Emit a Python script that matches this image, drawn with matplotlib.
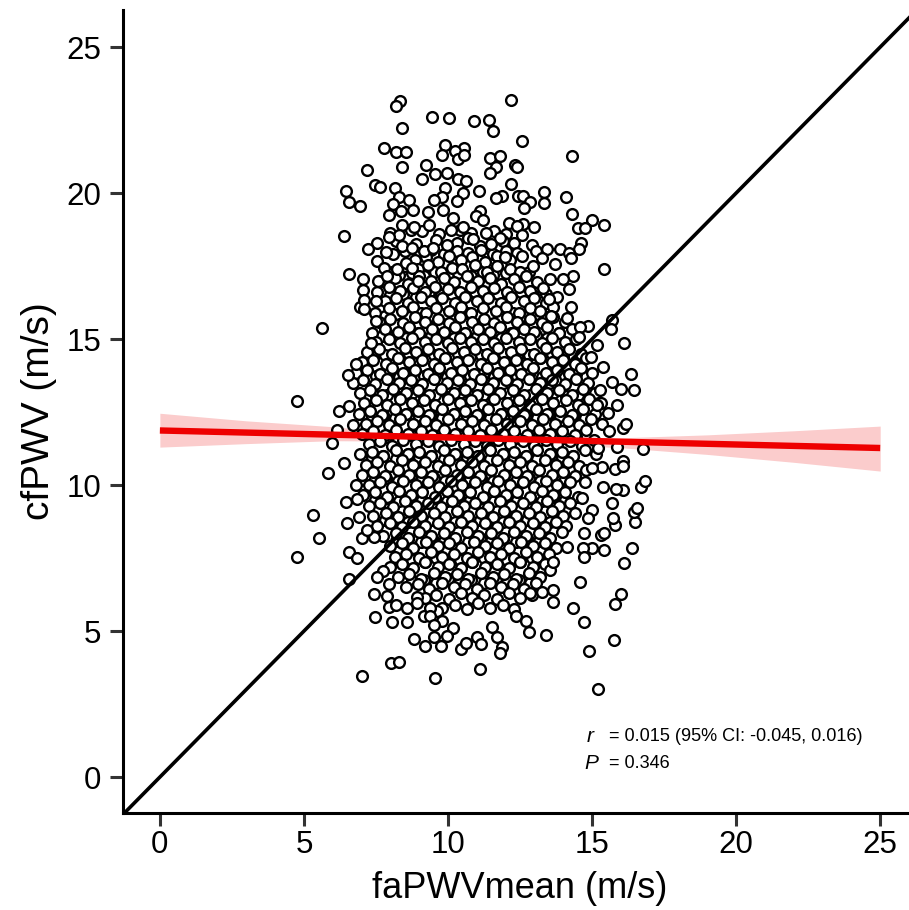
"""
cfPWV vs faPWVmean scatter with identity line and regression fit
"""

import matplotlib
matplotlib.use('Agg')
import matplotlib.pyplot as plt

plt.rcParams['font.family'] = ['Liberation Sans', 'DejaVu Sans']

fa_top = [8.33, 8.19, 12.18, 9.46, 10.04, 10.90, 11.44, 11.57, 8.41, 12.56, 7.78, 8.18, 8.55, 9.90, 10.57, 10.24,
          9.78, 10.34, 10.56, 11.47, 11.81, 14.30, 8.41, 9.22, 12.31, 12.41, 11.68, 11.45, 7.20, 9.56, 9.95, 9.10,
          10.34, 10.61, 7.47, 7.64, 12.18, 8.16, 9.90, 6.45, 11.09, 10.51, 13.32, 14.09, 8.31, 9.80, 9.51, 10.32,
          11.86, 11.68, 12.43, 12.59, 8.63, 12.85, 13.32, 6.56, 6.93, 8.10, 12.65, 8.77, 8.37, 9.82, 7.96, 9.32,
          11.11, 14.32, 10.96, 15.01, 11.23, 15.43, 10.19, 14.50, 14.76, 12.10, 12.62, 13.00, 12.41, 8.41, 8.83, 9.34,
          10.53, 10.09, 12.56, 6.40, 8.30, 7.96, 7.52, 7.23, 7.86, 8.41, 8.74, 9.17, 9.47, 9.98, 10.88, 11.31,
          11.81, 11.48, 12.91, 13.43, 13.89, 14.62, 14.56, 14.21, 14.26, 13.06, 13.25, 12.56, 11.98, 13.72, 15.40, 6.56,
          7.04, 14.33, 13.98, 13.54, 14.19, 7.06, 7.56, 7.52, 7.77, 8.24, 8.54, 8.76, 7.89, 8.97, 13.51, 14.26,
          6.95, 7.08, 7.10, 7.50, 5.61, 14.14, 13.58, 14.87, 14.58, 15.68, 15.67, 16.12, 15.16, 14.53, 7.32, 7.49,
          6.81, 15.37, 16.34, 14.96, 6.54]
cf_top = [23.16, 22.99, 23.18, 22.59, 22.56, 22.48, 22.50, 22.12, 22.24, 21.80, 21.55, 21.40, 21.40, 21.66, 21.53, 21.44,
          21.31, 21.18, 21.29, 21.20, 21.27, 21.26, 20.90, 20.95, 20.95, 20.88, 20.88, 20.70, 20.78, 20.66, 20.70, 20.49,
          20.49, 20.42, 20.26, 20.21, 20.32, 20.16, 20.16, 20.08, 20.08, 20.02, 20.05, 19.86, 19.87, 19.85, 19.78, 19.74,
          19.91, 19.83, 19.91, 19.91, 19.76, 19.71, 19.66, 19.70, 19.55, 19.62, 19.50, 19.42, 19.38, 19.42, 19.26, 19.34,
          19.40, 19.29, 19.21, 19.08, 19.08, 18.92, 19.13, 18.80, 18.82, 18.98, 18.94, 18.84, 18.88, 18.92, 18.84, 18.92,
          18.84, 18.73, 18.57, 18.54, 18.55, 18.48, 18.28, 18.07, 17.99, 18.20, 18.12, 18.01, 18.13, 18.22, 18.44, 18.62,
          18.46, 18.25, 18.22, 18.08, 18.09, 18.30, 18.10, 17.96, 17.76, 18.01, 17.77, 17.84, 17.80, 17.56, 17.40, 17.24,
          17.07, 17.16, 17.07, 17.07, 16.70, 16.68, 16.99, 17.69, 17.44, 17.40, 17.61, 17.42, 17.17, 16.99, 16.36, 16.10,
          16.11, 16.34, 16.03, 16.31, 15.37, 15.72, 15.79, 15.46, 15.40, 15.65, 15.34, 14.87, 14.79, 15.08, 14.87, 15.62,
          14.14, 14.05, 13.79, 14.37, 13.77]

fa_low = [4.75, 6.22, 6.56, 6.16, 6.69, 5.98, 6.40, 5.83, 6.81, 6.45, 6.83, 5.30, 6.48, 6.91, 5.51, 4.77,
          6.56, 6.85, 6.56, 7.03, 7.43, 7.20, 7.75, 7.52, 7.94, 7.43, 7.90, 7.96, 8.18, 8.57, 8.94, 8.94,
          7.47, 8.06, 8.59, 9.18, 9.61, 9.37, 9.37, 9.80, 9.53, 10.16, 8.82, 9.20, 9.51, 9.95, 9.75, 10.44,
          10.61, 10.99, 11.13, 11.52, 11.71, 11.86, 11.81, 12.36, 12.71, 12.82, 13.40, 14.35, 14.72, 14.58, 15.78, 16.00,
          15.77, 14.91, 16.12, 16.40, 15.42, 15.01, 14.68, 14.73, 14.73, 15.31, 15.42, 16.49, 16.46, 16.57, 15.80, 15.71,
          15.68, 16.70, 16.85, 16.09, 15.83, 15.37, 15.78, 16.09, 16.09, 15.34, 15.01, 16.76, 15.88, 15.22, 15.60, 16.09,
          16.17, 15.57, 15.86, 16.46, 16.01, 15.28, 15.16, 15.68, 8.02, 8.30, 7.01, 9.56, 11.12, 15.22, 13.66, 13.63,
          13.25, 12.85, 13.54, 13.66, 14.12, 14.76, 14.64, 14.99, 14.87]
cf_low = [12.88, 12.55, 12.71, 11.89, 12.06, 11.45, 10.75, 10.43, 10.02, 9.41, 9.52, 8.99, 8.71, 8.89, 8.19, 7.54,
          7.72, 7.52, 6.78, 8.18, 8.22, 8.46, 7.07, 6.84, 6.61, 6.27, 6.20, 5.84, 5.88, 5.78, 6.18, 5.97,
          5.49, 5.31, 5.31, 5.53, 5.70, 5.78, 5.53, 5.35, 5.21, 5.12, 4.72, 4.50, 4.81, 4.84, 4.49, 4.39,
          4.60, 4.79, 4.56, 5.15, 4.81, 4.45, 4.24, 5.52, 5.35, 4.96, 4.87, 5.79, 5.32, 6.69, 5.93, 6.27,
          4.70, 4.31, 7.32, 7.83, 7.77, 7.86, 7.86, 7.55, 8.36, 8.30, 8.37, 8.75, 9.07, 9.23, 8.63, 8.87,
          9.38, 9.94, 10.14, 9.83, 9.86, 9.92, 10.55, 10.81, 10.67, 10.63, 10.57, 11.24, 11.32, 11.27, 11.86, 11.94,
          12.08, 12.46, 12.73, 13.26, 13.28, 13.26, 12.74, 13.54, 3.90, 3.95, 3.46, 3.41, 3.69, 3.02, 6.41, 6.01,
          6.33, 6.29, 7.09, 7.36, 7.89, 10.12, 9.55, 9.15, 8.86]

# dense middle of the cloud, estimated row by row
fa_core = [8.85, 9.25, 9.65, 10.05, 10.45, 10.85, 11.3, 11.7, 12.15,
           8.05, 8.5, 8.95, 9.3, 9.75, 10.15, 10.5, 10.95, 11.35, 11.7, 12.15, 12.5, 12.95,
           7.7, 8.15, 8.6, 9.0, 9.4, 9.85, 10.2, 10.65, 11.05, 11.45, 11.85, 12.3, 12.7, 13.1,
           7.55, 7.95, 8.35, 8.8, 9.2, 9.55, 10.0, 10.4, 10.8, 11.2, 11.6, 12.05, 12.45, 12.85, 13.3,
           7.8, 8.2, 8.6, 9.05, 9.4, 9.8, 10.25, 10.6, 11.0, 11.4, 11.85, 12.2, 12.65, 13.0, 13.4, 13.8,
           7.45, 7.95, 8.4, 8.8, 9.25, 9.6, 10.05, 10.45, 10.8, 11.2, 11.65, 12.0, 12.45, 12.85, 13.2, 13.65,
           7.6, 8.0, 8.45, 8.85, 9.2, 9.65, 10.05, 10.4, 10.85, 11.25, 11.6, 12.05, 12.4, 12.85, 13.25, 13.65, 14.05,
           7.35, 7.8, 8.25, 8.65, 9.0, 9.45, 9.85, 10.25, 10.6, 11.05, 11.45, 11.8, 12.25, 12.65, 13.0, 13.45, 13.85, 14.3,
           7.5, 7.95, 8.35, 8.75, 9.2, 9.6, 10.0, 10.4, 10.8, 11.2, 11.6, 12.0, 12.45, 12.85, 13.25, 13.6, 14.05, 14.45,
           7.2, 7.6, 8.05, 8.5, 8.9, 9.3, 9.7, 10.15, 10.55, 10.95, 11.35, 11.75, 12.2, 12.55, 13.0, 13.4, 13.8, 14.2, 14.6,
           7.0, 7.4, 7.85, 8.25, 8.65, 9.1, 9.5, 9.9, 10.3, 10.7, 11.15, 11.55, 11.95, 12.35, 12.75, 13.2, 13.6, 14.0, 14.4, 14.8,
           6.8, 7.2, 7.65, 8.05, 8.45, 8.85, 9.3, 9.7, 10.1, 10.5, 10.9, 11.35, 11.75, 12.15, 12.55, 12.95, 13.4, 13.8, 14.2, 14.6, 15.0,
           6.7, 7.05, 7.45, 7.9, 8.3, 8.7, 9.1, 9.5, 9.95, 10.35, 10.75, 11.15, 11.55, 12.0, 12.4, 12.8, 13.2, 13.6, 14.05, 14.45, 14.85,
           6.95, 7.3, 7.7, 8.1, 8.55, 8.95, 9.35, 9.75, 10.2, 10.6, 11.0, 11.4, 11.8, 12.25, 12.65, 13.05, 13.45, 13.85, 14.3, 14.7, 15.1,
           7.1, 7.5, 7.9, 8.35, 8.75, 9.15, 9.55, 10.0, 10.4, 10.8, 11.2, 11.6, 12.05, 12.45, 12.85, 13.25, 13.65, 14.1, 14.5, 14.9, 15.3,
           6.9, 7.3, 7.7, 8.15, 8.55, 8.95, 9.35, 9.8, 10.2, 10.6, 11.0, 11.4, 11.85, 12.25, 12.65, 13.05, 13.45, 13.9, 14.3, 14.7, 15.1,
           7.15, 7.55, 7.95, 8.35, 8.8, 9.2, 9.6, 10.0, 10.45, 10.85, 11.25, 11.65, 12.05, 12.5, 12.9, 13.3, 13.7, 14.15, 14.55, 14.95, 15.35,
           7.0, 7.4, 7.8, 8.2, 8.6, 9.05, 9.45, 9.85, 10.25, 10.7, 11.1, 11.5, 11.9, 12.3, 12.75, 13.15, 13.55, 13.95, 14.4, 14.8,
           7.25, 7.65, 8.05, 8.45, 8.9, 9.3, 9.7, 10.1, 10.55, 10.95, 11.35, 11.75, 12.15, 12.6, 13.0, 13.4, 13.8, 14.25, 14.65, 15.05,
           6.95, 7.35, 7.75, 8.2, 8.6, 9.0, 9.4, 9.85, 10.25, 10.65, 11.05, 11.45, 11.9, 12.3, 12.7, 13.1, 13.55, 13.95, 14.35, 14.75, 15.15,
           7.15, 7.55, 8.0, 8.4, 8.8, 9.2, 9.65, 10.05, 10.45, 10.85, 11.25, 11.7, 12.1, 12.5, 12.9, 13.35, 13.75, 14.15, 14.55,
           7.0, 7.4, 7.8, 8.25, 8.65, 9.05, 9.45, 9.9, 10.3, 10.7, 11.1, 11.5, 11.95, 12.35, 12.75, 13.15, 13.6, 14.0, 14.4, 14.8,
           7.25, 7.65, 8.05, 8.45, 8.9, 9.3, 9.7, 10.1, 10.5, 10.95, 11.35, 11.75, 12.15, 12.6, 13.0, 13.4, 13.8, 14.25,
           7.05, 7.45, 7.9, 8.3, 8.7, 9.1, 9.55, 9.95, 10.35, 10.75, 11.2, 11.6, 12.0, 12.4, 12.85, 13.25, 13.65, 14.05, 14.5,
           7.25, 7.65, 8.1, 8.5, 8.9, 9.3, 9.75, 10.15, 10.55, 10.95, 11.4, 11.8, 12.2, 12.6, 13.05, 13.45, 13.85, 14.25,
           7.4, 7.85, 8.25, 8.65, 9.05, 9.5, 9.9, 10.3, 10.7, 11.15, 11.55, 11.95, 12.35, 12.8, 13.2, 13.6, 14.0, 14.4,
           7.55, 8.0, 8.4, 8.8, 9.2, 9.65, 10.05, 10.45, 10.85, 11.3, 11.7, 12.1, 12.5, 12.95, 13.35, 13.75, 14.1,
           7.75, 8.2, 8.6, 9.0, 9.4, 9.85, 10.25, 10.65, 11.05, 11.5, 11.9, 12.3, 12.7, 13.15, 13.55, 13.95,
           8.0, 8.4, 8.8, 9.25, 9.65, 10.05, 10.45, 10.9, 11.3, 11.7, 12.1, 12.55, 12.95, 13.35, 13.75,
           8.15, 8.55, 9.0, 9.4, 9.8, 10.2, 10.65, 11.05, 11.45, 11.85, 12.3, 12.7, 13.1, 13.5,
           8.0, 8.4, 8.8, 9.2, 9.65, 10.05, 10.45, 10.85, 11.3, 11.7, 12.1, 12.5, 12.95, 13.35,
           8.25, 8.65, 9.05, 9.5, 9.9, 10.3, 10.7, 11.15, 11.55, 11.95, 12.35, 12.8, 13.2,
           8.55, 8.95, 9.35, 9.8, 10.2, 10.6, 11.0, 11.45, 11.85, 12.25, 12.65, 13.05,
           9.2, 9.6, 10.05, 10.45, 10.85, 11.25, 11.7, 12.1, 12.5, 12.9,
           9.8, 10.25, 10.65, 11.05, 11.45, 11.9, 12.3]
cf_core = [17.7, 17.8, 17.65, 17.85, 17.7, 17.8, 17.65, 17.85, 17.7,
           17.3, 17.5, 17.4, 17.55, 17.3, 17.45, 17.4, 17.55, 17.3, 17.5, 17.4, 17.3, 17.5,
           17.0, 17.1, 16.9, 17.15, 17.0, 17.1, 16.95, 17.15, 17.0, 17.1, 16.9, 17.05, 17.15, 16.95,
           16.6, 16.8, 16.65, 16.75, 16.6, 16.8, 16.7, 16.6, 16.8, 16.65, 16.75, 16.6, 16.8, 16.65, 16.75,
           16.3, 16.4, 16.25, 16.45, 16.3, 16.4, 16.25, 16.45, 16.3, 16.4, 16.25, 16.45, 16.3, 16.4, 16.25, 16.45,
           15.9, 16.05, 15.95, 16.1, 15.9, 16.05, 15.95, 16.1, 15.9, 16.05, 15.95, 16.1, 15.9, 16.05, 15.95, 16.1,
           15.6, 15.7, 15.55, 15.75, 15.6, 15.7, 15.55, 15.75, 15.6, 15.7, 15.55, 15.75, 15.6, 15.7, 15.55, 15.75, 15.6,
           15.2, 15.35, 15.25, 15.4, 15.2, 15.35, 15.25, 15.4, 15.2, 15.35, 15.25, 15.4, 15.2, 15.35, 15.25, 15.4, 15.2, 15.35,
           14.9, 15.0, 14.85, 15.05, 14.9, 15.0, 14.85, 15.05, 14.9, 15.0, 14.85, 15.05, 14.9, 15.0, 14.85, 15.05, 14.9, 15.0,
           14.55, 14.65, 14.5, 14.7, 14.55, 14.65, 14.5, 14.7, 14.55, 14.65, 14.5, 14.7, 14.55, 14.65, 14.5, 14.7, 14.55, 14.65, 14.5,
           14.2, 14.3, 14.15, 14.35, 14.2, 14.3, 14.15, 14.35, 14.2, 14.3, 14.15, 14.35, 14.2, 14.3, 14.15, 14.35, 14.2, 14.3, 14.15, 14.35,
           13.85, 13.95, 13.8, 14.0, 13.85, 13.95, 13.8, 14.0, 13.85, 13.95, 13.8, 14.0, 13.85, 13.95, 13.8, 14.0, 13.85, 13.95, 13.8, 14.0, 13.85,
           13.5, 13.6, 13.45, 13.65, 13.5, 13.6, 13.45, 13.65, 13.5, 13.6, 13.45, 13.65, 13.5, 13.6, 13.45, 13.65, 13.5, 13.6, 13.45, 13.65, 13.5,
           13.15, 13.25, 13.1, 13.3, 13.15, 13.25, 13.1, 13.3, 13.15, 13.25, 13.1, 13.3, 13.15, 13.25, 13.1, 13.3, 13.15, 13.25, 13.1, 13.3, 13.15,
           12.8, 12.9, 12.75, 12.95, 12.8, 12.9, 12.75, 12.95, 12.8, 12.9, 12.75, 12.95, 12.8, 12.9, 12.75, 12.95, 12.8, 12.9, 12.75, 12.95, 12.8,
           12.45, 12.55, 12.4, 12.6, 12.45, 12.55, 12.4, 12.6, 12.45, 12.55, 12.4, 12.6, 12.45, 12.55, 12.4, 12.6, 12.45, 12.55, 12.4, 12.6, 12.45,
           12.1, 12.2, 12.05, 12.25, 12.1, 12.2, 12.05, 12.25, 12.1, 12.2, 12.05, 12.25, 12.1, 12.2, 12.05, 12.25, 12.1, 12.2, 12.05, 12.25, 12.1,
           11.75, 11.85, 11.7, 11.9, 11.75, 11.85, 11.7, 11.9, 11.75, 11.85, 11.7, 11.9, 11.75, 11.85, 11.7, 11.9, 11.75, 11.85, 11.7, 11.9,
           11.4, 11.5, 11.35, 11.55, 11.4, 11.5, 11.35, 11.55, 11.4, 11.5, 11.35, 11.55, 11.4, 11.5, 11.35, 11.55, 11.4, 11.5, 11.35, 11.55,
           11.05, 11.15, 11.0, 11.2, 11.05, 11.15, 11.0, 11.2, 11.05, 11.15, 11.0, 11.2, 11.05, 11.15, 11.0, 11.2, 11.05, 11.15, 11.0, 11.2, 11.05,
           10.7, 10.8, 10.65, 10.85, 10.7, 10.8, 10.65, 10.85, 10.7, 10.8, 10.65, 10.85, 10.7, 10.8, 10.65, 10.85, 10.7, 10.8, 10.65,
           10.35, 10.45, 10.3, 10.5, 10.35, 10.45, 10.3, 10.5, 10.35, 10.45, 10.3, 10.5, 10.35, 10.45, 10.3, 10.5, 10.35, 10.45, 10.3, 10.5,
           10.0, 10.1, 9.95, 10.15, 10.0, 10.1, 9.95, 10.15, 10.0, 10.1, 9.95, 10.15, 10.0, 10.1, 9.95, 10.15, 10.0, 10.1,
           9.65, 9.75, 9.6, 9.8, 9.65, 9.75, 9.6, 9.8, 9.65, 9.75, 9.6, 9.8, 9.65, 9.75, 9.6, 9.8, 9.65, 9.75, 9.6,
           9.3, 9.4, 9.25, 9.45, 9.3, 9.4, 9.25, 9.45, 9.3, 9.4, 9.25, 9.45, 9.3, 9.4, 9.25, 9.45, 9.3, 9.4,
           8.95, 9.05, 8.9, 9.1, 8.95, 9.05, 8.9, 9.1, 8.95, 9.05, 8.9, 9.1, 8.95, 9.05, 8.9, 9.1, 8.95, 9.05,
           8.6, 8.7, 8.55, 8.75, 8.6, 8.7, 8.55, 8.75, 8.6, 8.7, 8.55, 8.75, 8.6, 8.7, 8.55, 8.75, 8.6,
           8.25, 8.35, 8.2, 8.4, 8.25, 8.35, 8.2, 8.4, 8.25, 8.35, 8.2, 8.4, 8.25, 8.35, 8.2, 8.4,
           7.9, 8.0, 7.85, 8.05, 7.9, 8.0, 7.85, 8.05, 7.9, 8.0, 7.85, 8.05, 7.9, 8.0, 7.85,
           7.55, 7.65, 7.5, 7.7, 7.55, 7.65, 7.5, 7.7, 7.55, 7.65, 7.5, 7.7, 7.55, 7.65,
           7.2, 7.3, 7.15, 7.35, 7.2, 7.3, 7.15, 7.35, 7.2, 7.3, 7.15, 7.35, 7.2, 7.3,
           6.85, 6.95, 6.8, 7.0, 6.85, 6.95, 6.8, 7.0, 6.85, 6.95, 6.8, 7.0, 6.85,
           6.5, 6.6, 6.45, 6.65, 6.5, 6.6, 6.45, 6.65, 6.5, 6.6, 6.45, 6.65,
           6.15, 6.25, 6.1, 6.3, 6.15, 6.25, 6.1, 6.3, 6.15, 6.25,
           5.8, 5.9, 5.75, 5.95, 5.8, 5.9, 5.75]

# points half hidden under the top layer, also estimated
fa_under = [8.0, 8.7, 9.1, 9.7, 10.4, 10.8, 11.6, 12.0,
            8.2, 8.9, 9.6, 10.3, 10.7, 11.1, 11.9, 12.3,
            8.1, 8.5, 9.0, 9.4, 9.85, 10.3, 10.7, 11.15, 11.55, 12.0, 12.4,
            8.3, 8.75, 9.15, 9.55, 10.0, 10.35, 10.8, 11.2, 11.55, 12.0, 12.45, 12.8,
            8.0, 8.45, 8.9, 9.35, 9.75, 10.15, 10.55, 10.95, 11.35, 11.75, 12.15, 12.55, 12.95, 13.4,
            7.8, 8.2, 8.65, 9.05, 9.45, 9.85, 10.25, 10.65, 11.05, 11.45, 11.85, 12.25, 12.65, 13.05, 13.45,
            7.7, 8.15, 8.55, 8.95, 9.4, 9.8, 10.2, 10.6, 11.0, 11.4, 11.85, 12.2, 12.6, 13.05, 13.45, 13.85,
            7.4, 7.8, 8.25, 8.65, 9.05, 9.5, 9.9, 10.35, 10.75, 11.15, 11.55, 11.95, 12.4, 12.8, 13.2, 13.6, 14.0,
            7.5, 7.9, 8.3, 8.7, 9.15, 9.55, 9.95, 10.35, 10.75, 11.2, 11.6, 12.0, 12.4, 12.8, 13.25, 13.65, 14.05, 14.45,
            7.5, 7.9, 8.35, 8.75, 9.15, 9.55, 10.0, 10.4, 10.8, 11.2, 11.6, 12.05, 12.45, 12.85, 13.25, 13.65, 14.1, 14.5,
            7.35, 7.75, 8.15, 8.55, 9.0, 9.4, 9.8, 10.2, 10.65, 11.05, 11.45, 11.85, 12.3, 12.7, 13.1, 13.5, 13.9, 14.35, 14.75,
            7.45, 7.85, 8.25, 8.7, 9.1, 9.5, 9.9, 10.35, 10.75, 11.15, 11.55, 11.95, 12.4, 12.8, 13.2, 13.6, 14.05, 14.45,
            7.35, 7.75, 8.2, 8.6, 9.0, 9.4, 9.85, 10.25, 10.65, 11.05, 11.45, 11.9, 12.3, 12.7, 13.1, 13.55, 13.95, 14.35,
            7.45, 7.85, 8.25, 8.7, 9.1, 9.5, 9.9, 10.35, 10.75, 11.15, 11.55, 11.95, 12.4, 12.8, 13.2, 13.6, 14.05,
            7.45, 7.9, 8.3, 8.7, 9.1, 9.55, 9.95, 10.35, 10.75, 11.2, 11.6, 12.0, 12.4, 12.85, 13.25, 13.65, 14.05,
            7.8, 8.2, 8.6, 9.0, 9.45, 9.85, 10.25, 10.65, 11.1, 11.5, 11.9, 12.3, 12.75, 13.15, 13.55,
            8.2, 8.6, 9.05, 9.45, 9.85, 10.25, 10.7, 11.1, 11.5, 11.9, 12.35, 12.75, 13.15,
            8.35, 8.75, 9.2, 9.6, 10.0, 10.4, 10.85, 11.25, 11.65, 12.05, 12.5, 12.9,
            8.75, 9.15, 9.6, 10.0, 10.4, 10.8, 11.25, 11.65, 12.05, 12.45, 12.85]
cf_under = [18.65, 18.75, 18.7, 18.6, 18.75, 18.65, 18.7, 18.6,
            18.35, 18.25, 18.4, 18.3, 18.45, 18.2, 18.35, 18.3,
            17.9, 18.0, 17.95, 18.05, 17.9, 18.0, 17.95, 18.05, 17.9, 18.0, 17.95,
            17.2, 17.25, 17.15, 17.3, 17.2, 17.25, 17.15, 17.3, 17.2, 17.25, 17.15, 17.3,
            16.5, 16.55, 16.45, 16.6, 16.5, 16.55, 16.45, 16.6, 16.5, 16.55, 16.45, 16.6, 16.5, 16.55,
            15.8, 15.85, 15.75, 15.9, 15.8, 15.85, 15.75, 15.9, 15.8, 15.85, 15.75, 15.9, 15.8, 15.85, 15.75,
            15.1, 15.15, 15.05, 15.2, 15.1, 15.15, 15.05, 15.2, 15.1, 15.15, 15.05, 15.2, 15.1, 15.15, 15.05, 15.2,
            14.4, 14.45, 14.35, 14.5, 14.4, 14.45, 14.35, 14.5, 14.4, 14.45, 14.35, 14.5, 14.4, 14.45, 14.35, 14.5, 14.4,
            13.75, 13.8, 13.7, 13.85, 13.75, 13.8, 13.7, 13.85, 13.75, 13.8, 13.7, 13.85, 13.75, 13.8, 13.7, 13.85, 13.75, 13.8,
            13.05, 13.1, 13.0, 13.15, 13.05, 13.1, 13.0, 13.15, 13.05, 13.1, 13.0, 13.15, 13.05, 13.1, 13.0, 13.15, 13.05, 13.1,
            12.35, 12.4, 12.3, 12.45, 12.35, 12.4, 12.3, 12.45, 12.35, 12.4, 12.3, 12.45, 12.35, 12.4, 12.3, 12.45, 12.35, 12.4, 12.3,
            11.6, 11.65, 11.55, 11.7, 11.6, 11.65, 11.55, 11.7, 11.6, 11.65, 11.55, 11.7, 11.6, 11.65, 11.55, 11.7, 11.6, 11.65,
            10.95, 11.0, 10.9, 11.05, 10.95, 11.0, 10.9, 11.05, 10.95, 11.0, 10.9, 11.05, 10.95, 11.0, 10.9, 11.05, 10.95, 11.0,
            10.2, 10.25, 10.15, 10.3, 10.2, 10.25, 10.15, 10.3, 10.2, 10.25, 10.15, 10.3, 10.2, 10.25, 10.15, 10.3, 10.2,
            9.5, 9.55, 9.45, 9.6, 9.5, 9.55, 9.45, 9.6, 9.5, 9.55, 9.45, 9.6, 9.5, 9.55, 9.45, 9.6, 9.5,
            8.8, 8.85, 8.75, 8.9, 8.8, 8.85, 8.75, 8.9, 8.8, 8.85, 8.75, 8.9, 8.8, 8.85, 8.75,
            8.1, 8.15, 8.05, 8.2, 8.1, 8.15, 8.05, 8.2, 8.1, 8.15, 8.05, 8.2, 8.1,
            7.4, 7.45, 7.35, 7.5, 7.4, 7.45, 7.35, 7.5, 7.4, 7.45, 7.35, 7.5,
            6.7, 6.75, 6.65, 6.8, 6.7, 6.75, 6.65, 6.8, 6.7, 6.75, 6.65]

# regression fit and its 95% band
fit_x = [0, 25]
fit_y = [11.87, 11.27]
band_x = [0, 3, 6, 9, 11, 13, 16, 19, 22, 25]
band_upper = [12.46, 12.2, 12.0, 11.72, 11.65, 11.6, 11.62, 11.72, 11.86, 12.02]
band_lower = [11.30, 11.42, 11.52, 11.5, 11.5, 11.42, 11.28, 11.05, 10.78, 10.48]
identity = [-1.3, 26.1]
ticks = [0, 5, 10, 15, 20, 25]

fig = plt.figure(figsize=(9.09, 9.10), dpi=100)
ax = fig.add_axes([123 / 909, 97 / 910, 786 / 909, 803 / 910])

ax.fill_between(band_x, band_lower, band_upper, color='#fbcccc', lw=0, zorder=1)
ax.scatter(fa_under + fa_core + fa_top + fa_low, cf_under + cf_core + cf_top + cf_low, s=60, facecolor='white',
           edgecolor='black', linewidth=1.7, zorder=2)
ax.plot(identity, identity, color='black', lw=2.6, zorder=3)
ax.plot(fit_x, fit_y, color='#ee0000', lw=4.6, zorder=4, solid_capstyle='butt')

ax.set_xlim(-1.28, 26.0)
ax.set_ylim(-1.23, 26.27)
ax.set_xticks(ticks)
ax.set_yticks(ticks)
ax.tick_params(length=9.5, width=2.2, color='#333333', labelsize=22.5)
ax.tick_params(axis='x', pad=3)
ax.tick_params(axis='y', pad=6)
ax.spines['top'].set_visible(False)
ax.spines['right'].set_visible(False)
ax.spines['left'].set_linewidth(2.2)
ax.spines['bottom'].set_linewidth(2.2)
ax.set_xlabel('faPWVmean (m/s)', fontsize=26)
ax.xaxis.set_label_coords(0.505, -0.072, transform=ax.transAxes)
ax.xaxis.label.set_va('top')
ax.set_ylabel('cfPWV (m/s)', fontsize=28, labelpad=7)

ax.text(14.8, 1.4, 'r', fontsize=15, style='italic', va='center')
ax.text(15.59, 1.4, '= 0.015 (95% CI: -0.045, 0.016)', fontsize=13.1, va='center')
ax.text(14.72, 0.45, 'P', fontsize=15, style='italic', va='center')
ax.text(15.59, 0.45, '= 0.346', fontsize=13.1, va='center')

plt.savefig('out.png', dpi=100)
